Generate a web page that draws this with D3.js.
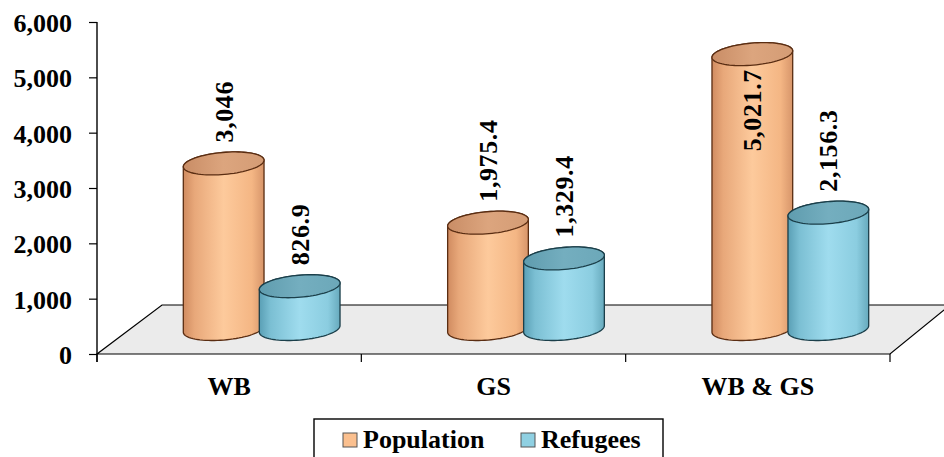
<!DOCTYPE html>
<html>
<head>
<meta charset="utf-8">
<script src="https://cdn.jsdelivr.net/npm/d3@7/dist/d3.min.js"></script>
<style>
  html, body { margin: 0; padding: 0; background: #fff; }
  svg { display: block; }
  text { font-family: "Liberation Serif", "Times New Roman", serif; font-weight: bold; fill: #000; }
</style>
</head>
<body>
<svg id="chart" width="944" height="457"></svg>
<script>
// Population and refugees (thousands) by region
const categories = ["WB", "GS", "WB & GS"];
const seriesNames = ["Population", "Refugees"];
const population = [3046, 1975.4, 5021.7];
const refugees = [826.9, 1329.4, 2156.3];
const valueLabels = [["3,046", "1,975.4", "5,021.7"], ["826.9", "1,329.4", "2,156.3"]];
const yTicks = [0, 1000, 2000, 3000, 4000, 5000, 6000];

const seriesValues = [population, refugees];

const svg = d3.select("#chart");

// Plot frame: front edge of the floor and the vertical value axis
const plotLeft = 97, plotRight = 890, plotBottom = 354, plotTop = 22;
const depthL = { dx: 65, dy: -49 };   // floor depth along the left side
const depthR = { dx: 60, dy: -49 };   // floor depth along the right side

const y = d3.scaleLinear().domain([0, 6000]).range([plotBottom, plotTop]);
const x = d3.scaleBand().domain(categories).range([plotLeft, plotRight]).paddingInner(0).paddingOuter(0);
const sub = d3.scaleBand().domain(seriesNames).range([-76, 76]);

// Cylinder geometry
const rx = 40.5, ry = 11, tilt = -5 * Math.PI / 180;
const topShift = -22;    // depth shift of cylinder tops relative to the value axis
const baseShift = -25;   // depth shift of cylinder bases

const style = {
  Population: {
    body: [["0%", "#d08b60"], ["14%", "#e8a87a"], ["50%", "#fdca9c"], ["85%", "#f4b684"], ["100%", "#d7956a"]],
    cap: [["0%", "#c98d66"], ["50%", "#dca57e"], ["100%", "#d49c75"]],
    stroke: "#5a2d12", swatch: "#fbc08f"
  },
  Refugees: {
    body: [["0%", "#5a9fb5"], ["14%", "#7bbfd3"], ["50%", "#9fdcee"], ["85%", "#8bcde0"], ["100%", "#67aabd"]],
    cap: [["0%", "#5f9cae"], ["50%", "#74aebf"], ["100%", "#6ca8b9"]],
    stroke: "#1b3f4a", swatch: "#8fd0e2"
  }
};

const defs = svg.append("defs");
seriesNames.forEach((s, i) => {
  const gb = defs.append("linearGradient").attr("id", "body" + i).attr("x1", "0%").attr("x2", "100%").attr("y1", "0%").attr("y2", "0%");
  style[s].body.forEach(([o, c]) => gb.append("stop").attr("offset", o).attr("stop-color", c));
  const gc = defs.append("linearGradient").attr("id", "cap" + i).attr("x1", "0%").attr("x2", "100%").attr("y1", "0%").attr("y2", "0%");
  style[s].cap.forEach(([o, c]) => gc.append("stop").attr("offset", o).attr("stop-color", c));
});

// Floor
const floorPts = [
  [plotLeft, plotBottom], [plotRight, plotBottom],
  [plotRight + depthR.dx, plotBottom + depthR.dy], [plotLeft + depthL.dx, plotBottom + depthL.dy]
];
svg.append("path")
  .attr("d", d3.line()(floorPts) + "Z")
  .attr("fill", "#ebebeb")
  .attr("stroke", "#000")
  .attr("stroke-width", 1.2)
  .attr("stroke-linejoin", "miter");

// Value axis
const yAxis = d3.axisLeft(y).tickValues(yTicks).tickFormat(d3.format(",")).tickSize(8).tickSizeOuter(0).tickPadding(17);
const gy = svg.append("g").attr("transform", `translate(${plotLeft},0)`).call(yAxis);
gy.select(".domain").remove();
gy.selectAll(".tick line").attr("stroke", "#000").attr("stroke-width", 1.2);
gy.selectAll(".tick text").attr("font-size", 26).attr("font-family", null).attr("dy", "0.36em");
svg.append("line").attr("x1", plotLeft).attr("x2", plotLeft).attr("y1", y(6000)).attr("y2", plotBottom + 8)
  .attr("stroke", "#000").attr("stroke-width", 1.4);

// Category boundary ticks along the front floor edge
const bounds = categories.map(c => x(c)).concat([x(categories[categories.length - 1]) + x.bandwidth()]);
svg.append("g").selectAll("line").data(bounds).join("line")
  .attr("x1", d => d).attr("x2", d => d).attr("y1", plotBottom).attr("y2", plotBottom + 8)
  .attr("stroke", "#000").attr("stroke-width", 1.2);

svg.append("g").selectAll("text").data(categories).join("text")
  .attr("x", d => x(d) + x.bandwidth() / 2)
  .attr("y", 395)
  .attr("text-anchor", "middle")
  .attr("font-size", 26)
  .text(d => d);

// Ellipse helpers
function ePt(cx, cy, t) {
  return [
    cx + rx * Math.cos(t) * Math.cos(tilt) - ry * Math.sin(t) * Math.sin(tilt),
    cy + rx * Math.cos(t) * Math.sin(tilt) + ry * Math.sin(t) * Math.cos(tilt)
  ];
}
function arcPts(cx, cy, t0, t1, n) {
  return d3.range(n + 1).map(k => ePt(cx, cy, t0 + (t1 - t0) * k / n));
}
const tR = Math.atan(-ry * Math.tan(tilt) / rx);

function bodyPath(cx, cyTop, cyBot) {
  const upper = arcPts(cx, cyTop, tR, tR - Math.PI, 40);
  const lower = arcPts(cx, cyBot, tR + Math.PI, tR, 40);
  return d3.line()(upper.concat(lower)) + "Z";
}
function capPath(cx, cy) {
  return d3.line()(arcPts(cx, cy, 0, 2 * Math.PI, 80)) + "Z";
}

function cylX(c, s) {
  return x(c) + x.bandwidth() / 2 + depthL.dx / 2 + sub(s) + sub.bandwidth() / 2;
}

// Cylinders, grouped by category; refugees drawn over population
const gBars = svg.append("g");
categories.forEach((c, ci) => {
  seriesNames.forEach((s, si) => {
    const v = seriesValues[si][ci];
    const cx = cylX(c, s);
    const cyTop = y(v) + topShift;
    const cyBot = y(0) + baseShift;
    const g = gBars.append("g");
    g.append("path").attr("d", bodyPath(cx, cyTop, cyBot))
      .attr("fill", `url(#body${si})`).attr("stroke", style[s].stroke).attr("stroke-width", 1.3);
    g.append("path").attr("d", capPath(cx, cyTop))
      .attr("fill", `url(#cap${si})`).attr("stroke", style[s].stroke).attr("stroke-width", 1.3);
  });
});

// Value labels, rotated; placed above the cap, or inside when there is no room
const gLabels = svg.append("g");
categories.forEach((c, ci) => {
  seriesNames.forEach((s, si) => {
    const v = seriesValues[si][ci];
    const label = valueLabels[si][ci];
    const cx = cylX(c, s);
    const cyTop = y(v) + topShift;
    const t = gLabels.append("text")
      .attr("font-size", 26)
      .attr("letter-spacing", 0.6)
      .attr("dy", "0.35em")
      .text(label);
    const len = t.node().getComputedTextLength();
    let startY = cyTop - ry - 10;
    if (startY - len < plotTop) startY = cyTop + ry + 4 + len;
    t.attr("transform", `translate(${cx},${startY}) rotate(-90)`);
  });
});

// Legend
const lg = svg.append("g");
lg.append("rect").attr("x", 314).attr("y", 419).attr("width", 349).attr("height", 60)
  .attr("fill", "#fff").attr("stroke", "#000").attr("stroke-width", 1.4);
const legendItems = [
  { name: "Population", sx: 343, tx: 363 },
  { name: "Refugees", sx: 521, tx: 541 }
];
legendItems.forEach(it => {
  lg.append("rect").attr("x", it.sx).attr("y", 433).attr("width", 14).attr("height", 14)
    .attr("fill", style[it.name].swatch).attr("stroke", "#555").attr("stroke-width", 1);
  lg.append("text").attr("x", it.tx).attr("y", 448).attr("font-size", 26).text(it.name);
});
</script>
</body>
</html>
